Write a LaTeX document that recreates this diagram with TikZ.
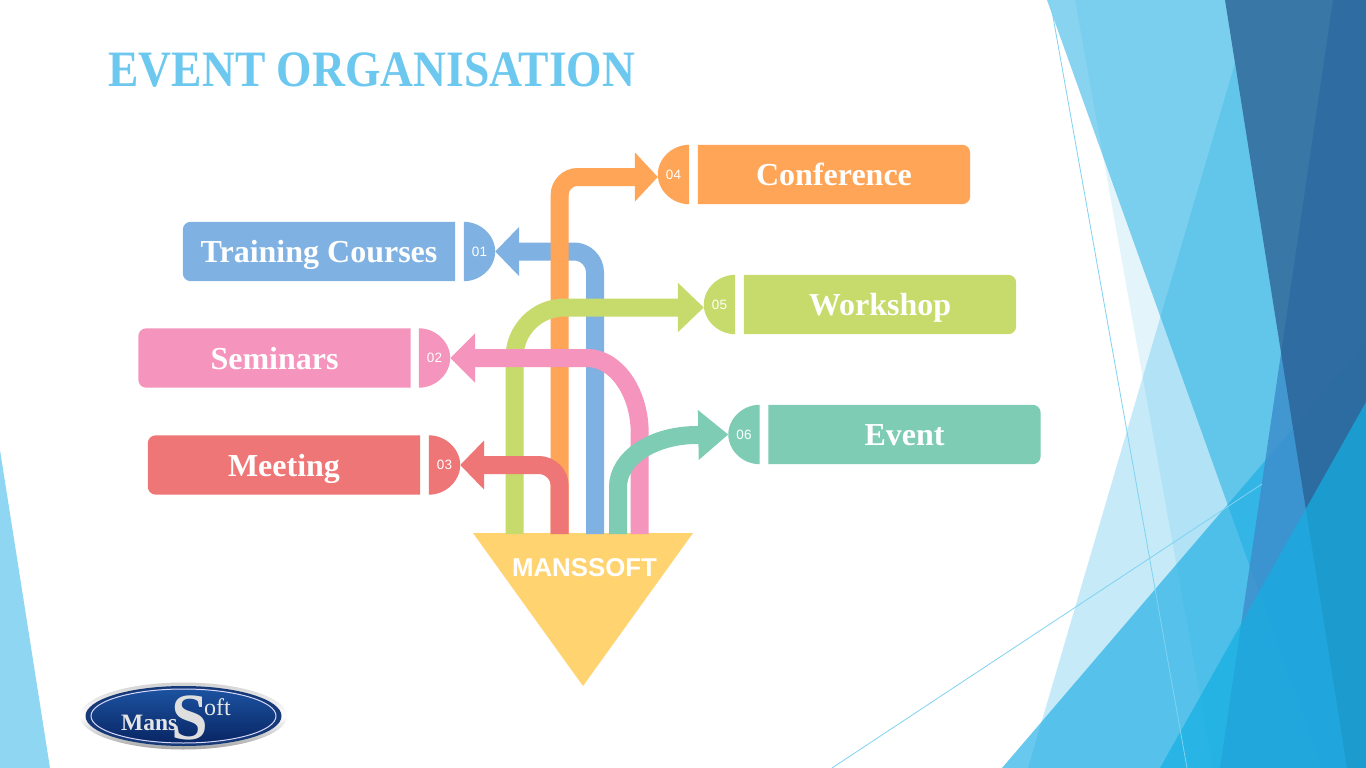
\documentclass[tikz,border=0pt]{standalone}
\usepackage{fontspec,graphicx}
\setmainfont{Liberation Serif}
\newfontfamily\arialfont{Liberation Sans}
\usetikzlibrary{arrows.meta, backgrounds, shapes.geometric}
\definecolor{bluec}{HTML}{7FB2E2}
\definecolor{orangec}{HTML}{FFA557}
\definecolor{greenc}{HTML}{C6DB6B}
\definecolor{pinkc}{HTML}{F594BC}
\definecolor{tealc}{HTML}{7FCCB5}
\definecolor{redc}{HTML}{EF7676}
\definecolor{yellowc}{HTML}{FFD36F}
\definecolor{facetc}{HTML}{1CADE4}
\definecolor{linec}{HTML}{7FD3F2}
\definecolor{titlec}{HTML}{6CC8EE}
\tikzset{
    flow/.style={line width=18pt, -{Triangle[length=#1, width=48pt]}},
    badge/.style={minimum width=31pt, minimum height=59pt, inner sep=0pt, text=white, font=\arialfont\fontsize{13.5}{14}\selectfont},
    tabtext/.style={minimum width=272pt, minimum height=59pt, inner sep=0pt, text height=24pt, text depth=2pt, text=white, font=\bfseries\fontsize{32}{34}\selectfont},
}
\begin{document}
\begin{tikzpicture}[x=1pt, y=-1pt]
            \useasboundingbox (0,0) rectangle (1366,768);
            \begin{scope}[on background layer]
            \fill[white] (0,0) rectangle (1366,768);
            % facets on the right, back to front
            \fill[facetc, opacity=.52] (1047,0)--(1366,0)--(1366,768)--(1322,768)--cycle;
            \fill[facetc, opacity=.25] (1235,63)--(1347,768)--(1028,768)--cycle;
            \fill[facetc, opacity=.12] (1075,0)--(1366,0)--(1366,768)--(1213,768)--cycle;
            \fill[facetc, opacity=.66] (1002,768)--(1366,343)--(1366,768)--cycle;
            \fill[fill={rgb,255:red,61;green,143;blue,204}, opacity=.85] (1333,0)--(1366,0)--(1366,768)--(1220,768)--cycle;
            \fill[fill={rgb,255:red,40;green,98;blue,149}, opacity=.8] (1225,0)--(1366,0)--(1366,768)--(1347,768)--cycle;
            \fill[fill={rgb,255:red,21;green,175;blue,226}, opacity=.7] (1366,402)--(1366,768)--(1160,768)--cycle;
            \draw[linec, line width=.8pt] (1050,0)--(1187,768);
            \draw[linec, line width=.8pt] (832,768)--(1262,484);
            % facet on the left
            \fill[facetc!50] (0,450)--(50,768)--(0,768)--cycle;
            \end{scope}

            \node[anchor=west, text=titlec, font=\bfseries\fontsize{51}{54}\selectfont] (title) at (105,70) {\scalebox{.893}[1]{EVENT ORGANISATION}};

            % funnel with the start of each arrow
            \fill[yellowc] (473,533)--(693,533)--(583,686)--cycle;
            \node[text=white, font=\arialfont\bfseries\fontsize{25.8}{28}\selectfont] (mans) at (584.5,568) {MANSSOFT};
            \coordinate (sGreen) at (514.5,534);
            \coordinate (sRed) at (559.7,534);
            \coordinate (sOrange) at (559.7,534);
            \coordinate (sBlue) at (595,534);
            \coordinate (sTeal) at (618,534);
            \coordinate (sPink) at (639.7,534);

            % labels
            \node[tabtext] (training) at (319,251.5) {Training Courses};
            \node[tabtext] (seminars) at (274.5,358) {Seminars};
            \node[tabtext] (meeting) at (284,465) {Meeting};
            \node[tabtext] (conference) at (834,174.5) {Conference};
            \node[tabtext] (workshop) at (880,304.5) {Workshop};
            \node[tabtext] (event) at (904.5,434.5) {Event};

            % number badges
            \node[badge] (b01) at (479.5,251.5) {01};
            \node[badge] (b02) at (434.5,358) {02};
            \node[badge] (b03) at (444.5,465) {03};
            \node[badge] (b04) at (673.5,174.5) {04};
            \node[badge] (b05) at (719.5,304.5) {05};
            \node[badge] (b06) at (744,434.5) {06};

            \begin{scope}[on background layer]
            \foreach \n/\c in {training/bluec, seminars/pinkc, meeting/redc}
                \fill[\c] (\n.north east)--(\n.south east)[rounded corners=8pt]--(\n.south west)--(\n.north west)[sharp corners]--cycle;
            \foreach \n/\c in {conference/orangec, workshop/greenc, event/tealc}
                \fill[\c] (\n.north west)--(\n.south west)[rounded corners=8pt]--(\n.south east)--(\n.north east)[sharp corners]--cycle;
            \foreach \n/\c in {b01/bluec, b02/pinkc, b03/redc}
                \fill[\c] (\n.north west) .. controls +(17,0) and +(0,-16) .. (\n.east) .. controls +(0,16) and +(17,0) .. (\n.south west)--cycle;
            \foreach \n/\c in {b04/orangec, b05/greenc, b06/tealc}
                \fill[\c] (\n.north east) .. controls +(-17,0) and +(0,-16) .. (\n.west) .. controls +(0,16) and +(-17,0) .. (\n.south east)--cycle;
            \end{scope}

            % arrows
            \draw[flow=24pt, bluec, rounded corners=21pt] (sBlue) |- (b01.east);
            \draw[flow=23pt, orangec, rounded corners=18pt] (sOrange) |- ([yshift=-2.5pt]b04.west);
            \draw[flow=26pt, greenc, rounded corners=50pt] (sGreen) |- ([yshift=-3pt]b05.west);
            \draw[flow=25pt, pinkc] (sPink)--(639.7,433) .. controls (639.7,392) and (616,358) .. (587,358)--(b02.east);
            \draw[flow=30pt, tealc] (sTeal)--(618,487) .. controls (618,458) and (653,435) .. (697,435)--(b06.west);
            \draw[flow=24pt, redc, rounded corners=21pt] (sRed) |- (b03.east);

            % logo
            \node[ellipse, inner sep=0pt, minimum width=207pt, minimum height=67pt, top color=gray!35, bottom color=gray!70, middle color=white] (silver) at (183.5,716) {};
            \node[ellipse, inner sep=0pt, minimum width=196pt, minimum height=60pt, fill={rgb,255:red,22;green,58;blue,120}] (ring) at (183.5,716) {};
            \node[ellipse, inner sep=0pt, draw=white!85!blue, line width=1pt, minimum width=185pt, minimum height=54pt, top color={rgb,255:red,28;green,82;blue,160}, bottom color={rgb,255:red,8;green,38;blue,100}] (oval) at (183.5,716) {};
            \node[anchor=base west, inner sep=0pt, text=gray!20, font=\bfseries\fontsize{23.5}{28}\selectfont] (mansname) at (121,730) {Mans};
            \node[anchor=base, inner sep=0pt, text=gray!25, font=\bfseries\fontsize{66}{70}\selectfont] (bigs) at (190,739) {S};
            \node[anchor=base west, inner sep=0pt, text=gray!20, font=\fontsize{24}{25}\selectfont] (softname) at (204,715) {oft};
        \end{tikzpicture}
\end{document}
